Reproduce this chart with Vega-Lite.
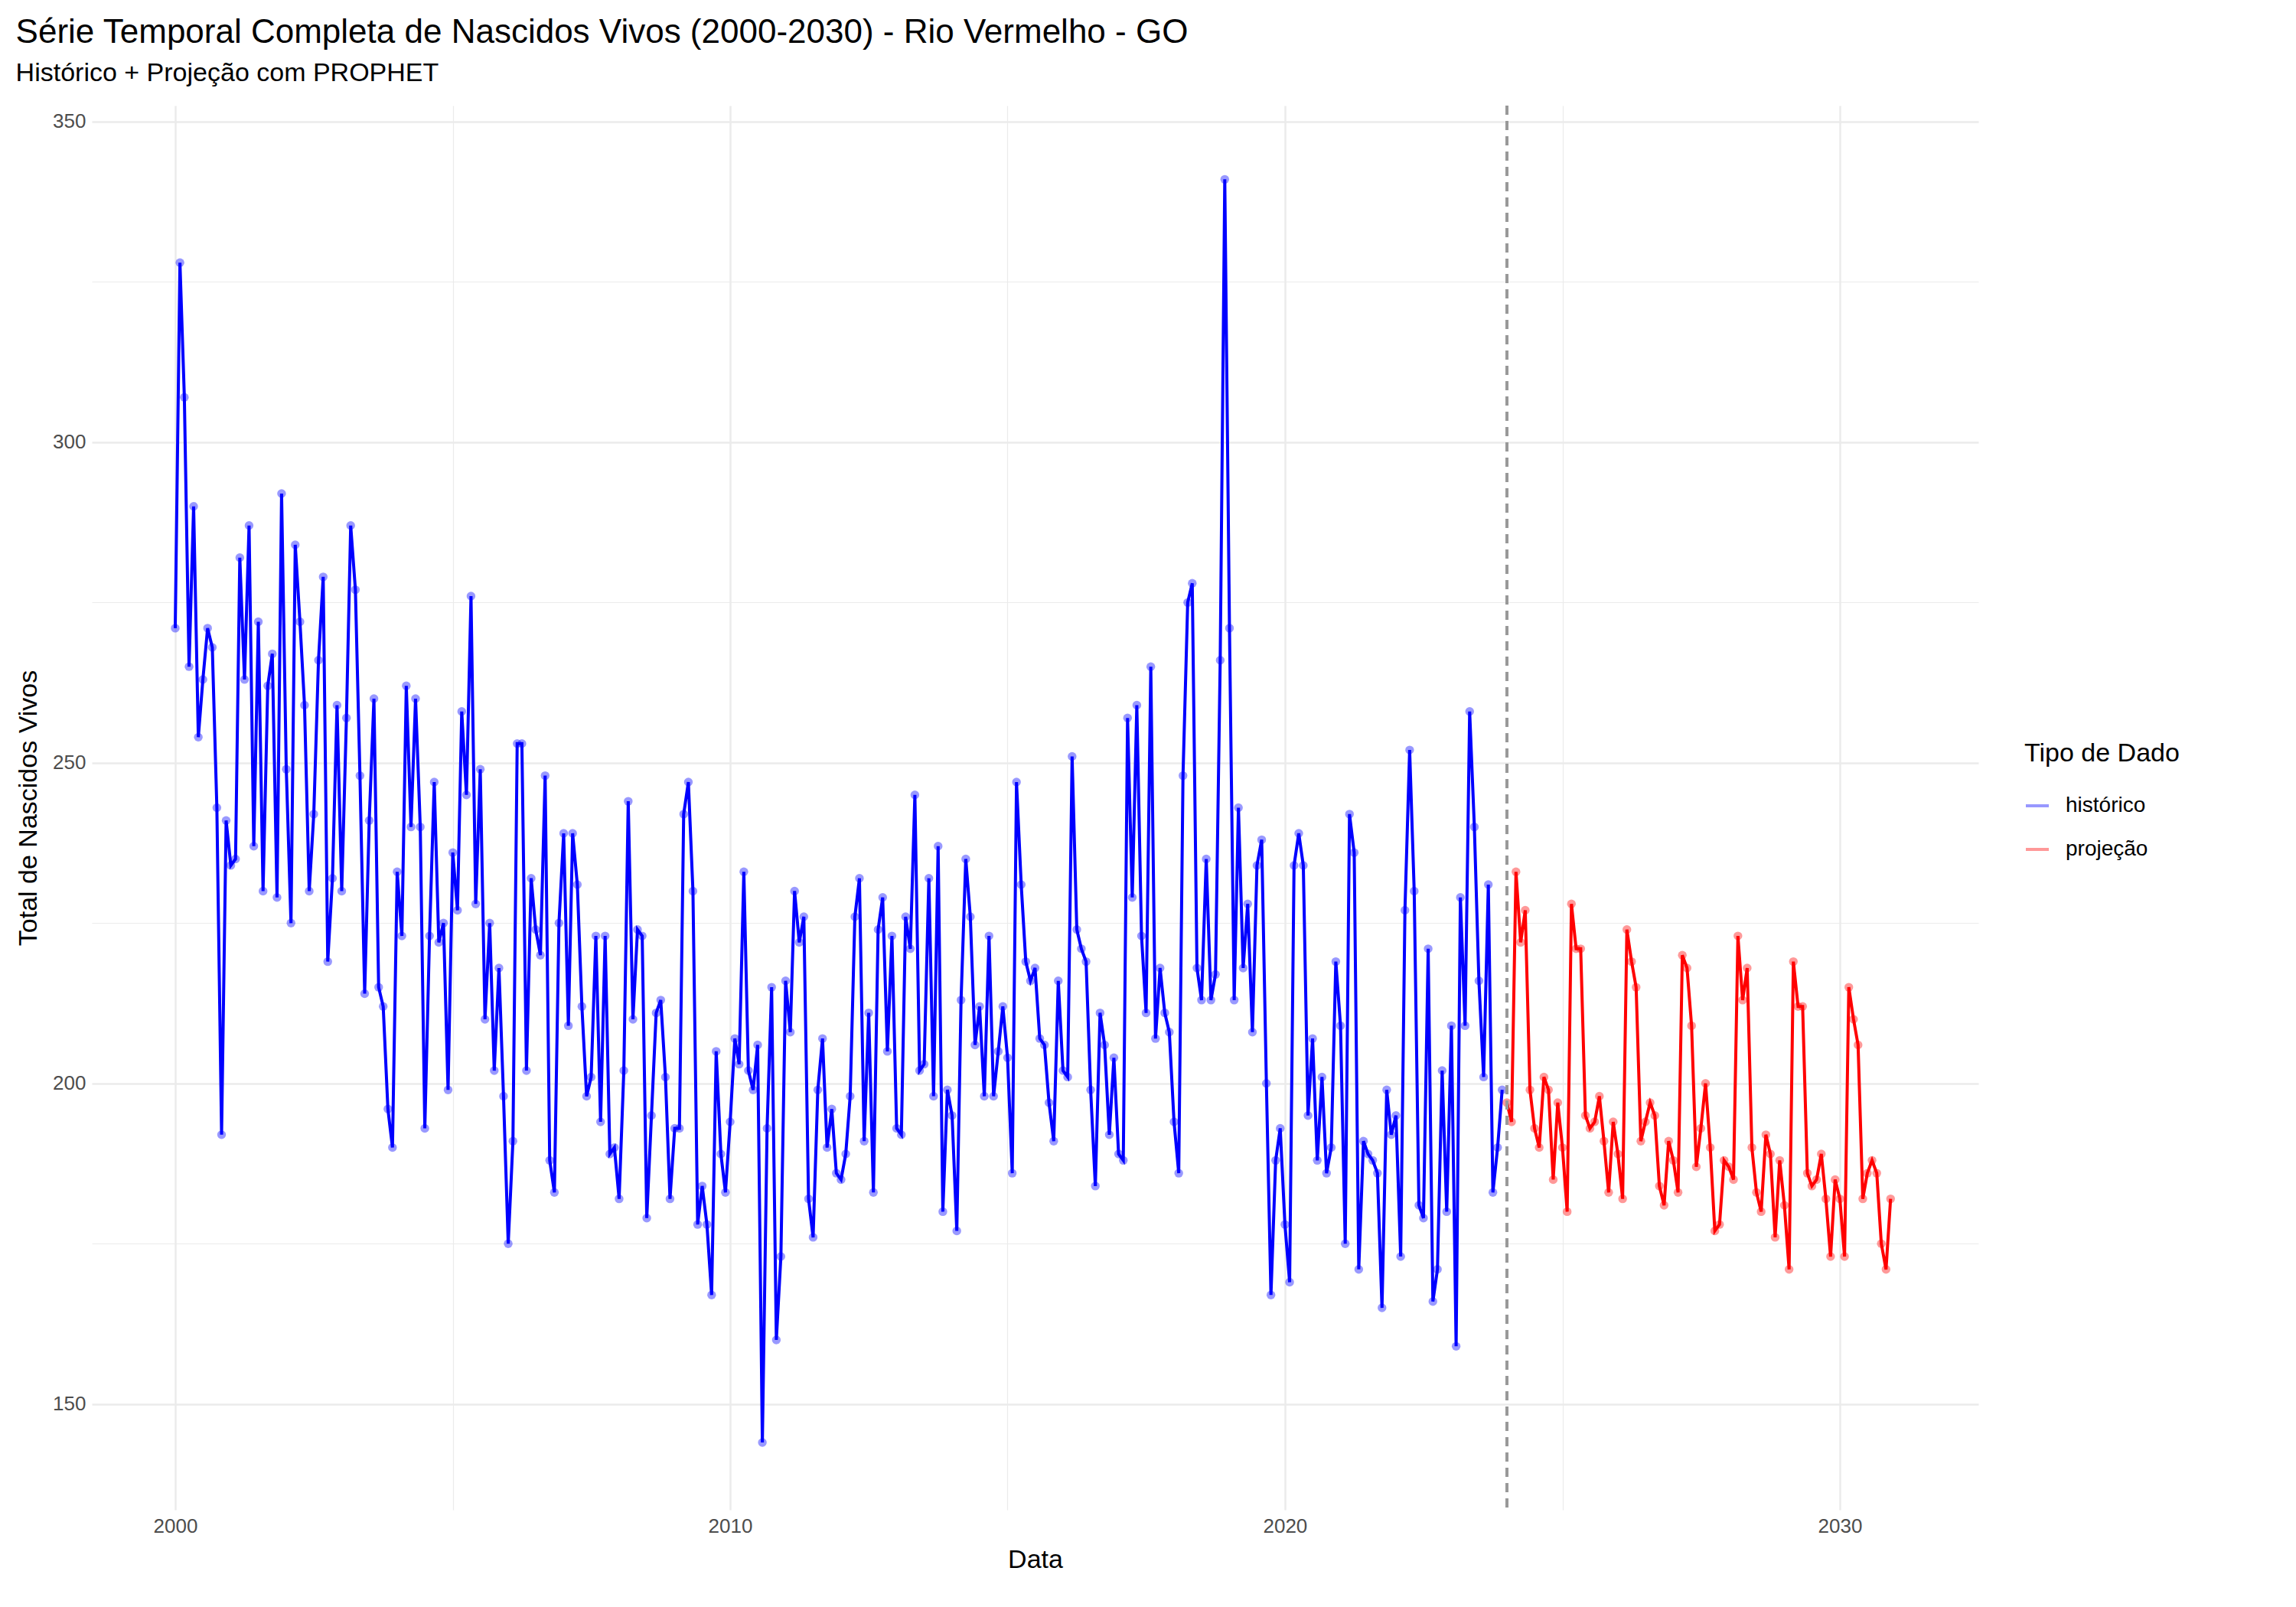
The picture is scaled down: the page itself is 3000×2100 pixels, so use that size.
{
  "$schema": "https://vega.github.io/schema/vega-lite/v6.json",
  "width": 2465,
  "height": 1835,
  "padding": {"left": 20, "top": 20, "right": 20, "bottom": 20},
  "background": "white",
  "config": {
    "font": "Liberation Sans",
    "view": {"stroke": null},
    "axis": {"domain": false, "ticks": false, "gridColor": "#ebebeb", "gridWidth": 2.5, "labelFontSize": 26, "labelColor": "#4d4d4d", "titleFontSize": 34, "titleFontWeight": "normal", "titleColor": "black", "labelPadding": 8, "titlePadding": 14},
    "legend": {"titleFontSize": 34, "titleFontWeight": "normal", "labelFontSize": 28, "symbolSize": 900, "symbolStrokeWidth": 4, "rowPadding": 26, "titlePadding": 34, "titleLimit": 600, "labelLimit": 400, "labelOffset": 20}
  },
  "title": {"text": "Série Temporal Completa de Nascidos Vivos (2000-2030) -  Rio Vermelho - GO", "subtitle": "Histórico + Projeção com PROPHET", "fontSize": 44, "fontWeight": "normal", "subtitleFontSize": 34, "anchor": "start", "offset": 24, "subtitlePadding": 14},
  "data": {"values": [
{"d":"2000-01-01","v":271,"t":"histórico"},{"d":"2000-02-01","v":328,"t":"histórico"},{"d":"2000-03-01","v":307,"t":"histórico"},{"d":"2000-04-01","v":265,"t":"histórico"},{"d":"2000-05-01","v":290,"t":"histórico"},{"d":"2000-06-01","v":254,"t":"histórico"},{"d":"2000-07-01","v":263,"t":"histórico"},{"d":"2000-08-01","v":271,"t":"histórico"},{"d":"2000-09-01","v":268,"t":"histórico"},{"d":"2000-10-01","v":243,"t":"histórico"},{"d":"2000-11-01","v":192,"t":"histórico"},{"d":"2000-12-01","v":241,"t":"histórico"},
{"d":"2001-01-01","v":234,"t":"histórico"},{"d":"2001-02-01","v":235,"t":"histórico"},{"d":"2001-03-01","v":282,"t":"histórico"},{"d":"2001-04-01","v":263,"t":"histórico"},{"d":"2001-05-01","v":287,"t":"histórico"},{"d":"2001-06-01","v":237,"t":"histórico"},{"d":"2001-07-01","v":272,"t":"histórico"},{"d":"2001-08-01","v":230,"t":"histórico"},{"d":"2001-09-01","v":262,"t":"histórico"},{"d":"2001-10-01","v":267,"t":"histórico"},{"d":"2001-11-01","v":229,"t":"histórico"},{"d":"2001-12-01","v":292,"t":"histórico"},
{"d":"2002-01-01","v":249,"t":"histórico"},{"d":"2002-02-01","v":225,"t":"histórico"},{"d":"2002-03-01","v":284,"t":"histórico"},{"d":"2002-04-01","v":272,"t":"histórico"},{"d":"2002-05-01","v":259,"t":"histórico"},{"d":"2002-06-01","v":230,"t":"histórico"},{"d":"2002-07-01","v":242,"t":"histórico"},{"d":"2002-08-01","v":266,"t":"histórico"},{"d":"2002-09-01","v":279,"t":"histórico"},{"d":"2002-10-01","v":219,"t":"histórico"},{"d":"2002-11-01","v":232,"t":"histórico"},{"d":"2002-12-01","v":259,"t":"histórico"},
{"d":"2003-01-01","v":230,"t":"histórico"},{"d":"2003-02-01","v":257,"t":"histórico"},{"d":"2003-03-01","v":287,"t":"histórico"},{"d":"2003-04-01","v":277,"t":"histórico"},{"d":"2003-05-01","v":248,"t":"histórico"},{"d":"2003-06-01","v":214,"t":"histórico"},{"d":"2003-07-01","v":241,"t":"histórico"},{"d":"2003-08-01","v":260,"t":"histórico"},{"d":"2003-09-01","v":215,"t":"histórico"},{"d":"2003-10-01","v":212,"t":"histórico"},{"d":"2003-11-01","v":196,"t":"histórico"},{"d":"2003-12-01","v":190,"t":"histórico"},
{"d":"2004-01-01","v":233,"t":"histórico"},{"d":"2004-02-01","v":223,"t":"histórico"},{"d":"2004-03-01","v":262,"t":"histórico"},{"d":"2004-04-01","v":240,"t":"histórico"},{"d":"2004-05-01","v":260,"t":"histórico"},{"d":"2004-06-01","v":240,"t":"histórico"},{"d":"2004-07-01","v":193,"t":"histórico"},{"d":"2004-08-01","v":223,"t":"histórico"},{"d":"2004-09-01","v":247,"t":"histórico"},{"d":"2004-10-01","v":222,"t":"histórico"},{"d":"2004-11-01","v":225,"t":"histórico"},{"d":"2004-12-01","v":199,"t":"histórico"},
{"d":"2005-01-01","v":236,"t":"histórico"},{"d":"2005-02-01","v":227,"t":"histórico"},{"d":"2005-03-01","v":258,"t":"histórico"},{"d":"2005-04-01","v":245,"t":"histórico"},{"d":"2005-05-01","v":276,"t":"histórico"},{"d":"2005-06-01","v":228,"t":"histórico"},{"d":"2005-07-01","v":249,"t":"histórico"},{"d":"2005-08-01","v":210,"t":"histórico"},{"d":"2005-09-01","v":225,"t":"histórico"},{"d":"2005-10-01","v":202,"t":"histórico"},{"d":"2005-11-01","v":218,"t":"histórico"},{"d":"2005-12-01","v":198,"t":"histórico"},
{"d":"2006-01-01","v":175,"t":"histórico"},{"d":"2006-02-01","v":191,"t":"histórico"},{"d":"2006-03-01","v":253,"t":"histórico"},{"d":"2006-04-01","v":253,"t":"histórico"},{"d":"2006-05-01","v":202,"t":"histórico"},{"d":"2006-06-01","v":232,"t":"histórico"},{"d":"2006-07-01","v":224,"t":"histórico"},{"d":"2006-08-01","v":220,"t":"histórico"},{"d":"2006-09-01","v":248,"t":"histórico"},{"d":"2006-10-01","v":188,"t":"histórico"},{"d":"2006-11-01","v":183,"t":"histórico"},{"d":"2006-12-01","v":225,"t":"histórico"},
{"d":"2007-01-01","v":239,"t":"histórico"},{"d":"2007-02-01","v":209,"t":"histórico"},{"d":"2007-03-01","v":239,"t":"histórico"},{"d":"2007-04-01","v":231,"t":"histórico"},{"d":"2007-05-01","v":212,"t":"histórico"},{"d":"2007-06-01","v":198,"t":"histórico"},{"d":"2007-07-01","v":201,"t":"histórico"},{"d":"2007-08-01","v":223,"t":"histórico"},{"d":"2007-09-01","v":194,"t":"histórico"},{"d":"2007-10-01","v":223,"t":"histórico"},{"d":"2007-11-01","v":189,"t":"histórico"},{"d":"2007-12-01","v":190,"t":"histórico"},
{"d":"2008-01-01","v":182,"t":"histórico"},{"d":"2008-02-01","v":202,"t":"histórico"},{"d":"2008-03-01","v":244,"t":"histórico"},{"d":"2008-04-01","v":210,"t":"histórico"},{"d":"2008-05-01","v":224,"t":"histórico"},{"d":"2008-06-01","v":223,"t":"histórico"},{"d":"2008-07-01","v":179,"t":"histórico"},{"d":"2008-08-01","v":195,"t":"histórico"},{"d":"2008-09-01","v":211,"t":"histórico"},{"d":"2008-10-01","v":213,"t":"histórico"},{"d":"2008-11-01","v":201,"t":"histórico"},{"d":"2008-12-01","v":182,"t":"histórico"},
{"d":"2009-01-01","v":193,"t":"histórico"},{"d":"2009-02-01","v":193,"t":"histórico"},{"d":"2009-03-01","v":242,"t":"histórico"},{"d":"2009-04-01","v":247,"t":"histórico"},{"d":"2009-05-01","v":230,"t":"histórico"},{"d":"2009-06-01","v":178,"t":"histórico"},{"d":"2009-07-01","v":184,"t":"histórico"},{"d":"2009-08-01","v":178,"t":"histórico"},{"d":"2009-09-01","v":167,"t":"histórico"},{"d":"2009-10-01","v":205,"t":"histórico"},{"d":"2009-11-01","v":189,"t":"histórico"},{"d":"2009-12-01","v":183,"t":"histórico"},
{"d":"2010-01-01","v":194,"t":"histórico"},{"d":"2010-02-01","v":207,"t":"histórico"},{"d":"2010-03-01","v":203,"t":"histórico"},{"d":"2010-04-01","v":233,"t":"histórico"},{"d":"2010-05-01","v":202,"t":"histórico"},{"d":"2010-06-01","v":199,"t":"histórico"},{"d":"2010-07-01","v":206,"t":"histórico"},{"d":"2010-08-01","v":144,"t":"histórico"},{"d":"2010-09-01","v":193,"t":"histórico"},{"d":"2010-10-01","v":215,"t":"histórico"},{"d":"2010-11-01","v":160,"t":"histórico"},{"d":"2010-12-01","v":173,"t":"histórico"},
{"d":"2011-01-01","v":216,"t":"histórico"},{"d":"2011-02-01","v":208,"t":"histórico"},{"d":"2011-03-01","v":230,"t":"histórico"},{"d":"2011-04-01","v":222,"t":"histórico"},{"d":"2011-05-01","v":226,"t":"histórico"},{"d":"2011-06-01","v":182,"t":"histórico"},{"d":"2011-07-01","v":176,"t":"histórico"},{"d":"2011-08-01","v":199,"t":"histórico"},{"d":"2011-09-01","v":207,"t":"histórico"},{"d":"2011-10-01","v":190,"t":"histórico"},{"d":"2011-11-01","v":196,"t":"histórico"},{"d":"2011-12-01","v":186,"t":"histórico"},
{"d":"2012-01-01","v":185,"t":"histórico"},{"d":"2012-02-01","v":189,"t":"histórico"},{"d":"2012-03-01","v":198,"t":"histórico"},{"d":"2012-04-01","v":226,"t":"histórico"},{"d":"2012-05-01","v":232,"t":"histórico"},{"d":"2012-06-01","v":191,"t":"histórico"},{"d":"2012-07-01","v":211,"t":"histórico"},{"d":"2012-08-01","v":183,"t":"histórico"},{"d":"2012-09-01","v":224,"t":"histórico"},{"d":"2012-10-01","v":229,"t":"histórico"},{"d":"2012-11-01","v":205,"t":"histórico"},{"d":"2012-12-01","v":223,"t":"histórico"},
{"d":"2013-01-01","v":193,"t":"histórico"},{"d":"2013-02-01","v":192,"t":"histórico"},{"d":"2013-03-01","v":226,"t":"histórico"},{"d":"2013-04-01","v":221,"t":"histórico"},{"d":"2013-05-01","v":245,"t":"histórico"},{"d":"2013-06-01","v":202,"t":"histórico"},{"d":"2013-07-01","v":203,"t":"histórico"},{"d":"2013-08-01","v":232,"t":"histórico"},{"d":"2013-09-01","v":198,"t":"histórico"},{"d":"2013-10-01","v":237,"t":"histórico"},{"d":"2013-11-01","v":180,"t":"histórico"},{"d":"2013-12-01","v":199,"t":"histórico"},
{"d":"2014-01-01","v":195,"t":"histórico"},{"d":"2014-02-01","v":177,"t":"histórico"},{"d":"2014-03-01","v":213,"t":"histórico"},{"d":"2014-04-01","v":235,"t":"histórico"},{"d":"2014-05-01","v":226,"t":"histórico"},{"d":"2014-06-01","v":206,"t":"histórico"},{"d":"2014-07-01","v":212,"t":"histórico"},{"d":"2014-08-01","v":198,"t":"histórico"},{"d":"2014-09-01","v":223,"t":"histórico"},{"d":"2014-10-01","v":198,"t":"histórico"},{"d":"2014-11-01","v":205,"t":"histórico"},{"d":"2014-12-01","v":212,"t":"histórico"},
{"d":"2015-01-01","v":204,"t":"histórico"},{"d":"2015-02-01","v":186,"t":"histórico"},{"d":"2015-03-01","v":247,"t":"histórico"},{"d":"2015-04-01","v":231,"t":"histórico"},{"d":"2015-05-01","v":219,"t":"histórico"},{"d":"2015-06-01","v":216,"t":"histórico"},{"d":"2015-07-01","v":218,"t":"histórico"},{"d":"2015-08-01","v":207,"t":"histórico"},{"d":"2015-09-01","v":206,"t":"histórico"},{"d":"2015-10-01","v":197,"t":"histórico"},{"d":"2015-11-01","v":191,"t":"histórico"},{"d":"2015-12-01","v":216,"t":"histórico"},
{"d":"2016-01-01","v":202,"t":"histórico"},{"d":"2016-02-01","v":201,"t":"histórico"},{"d":"2016-03-01","v":251,"t":"histórico"},{"d":"2016-04-01","v":224,"t":"histórico"},{"d":"2016-05-01","v":221,"t":"histórico"},{"d":"2016-06-01","v":219,"t":"histórico"},{"d":"2016-07-01","v":199,"t":"histórico"},{"d":"2016-08-01","v":184,"t":"histórico"},{"d":"2016-09-01","v":211,"t":"histórico"},{"d":"2016-10-01","v":206,"t":"histórico"},{"d":"2016-11-01","v":192,"t":"histórico"},{"d":"2016-12-01","v":204,"t":"histórico"},
{"d":"2017-01-01","v":189,"t":"histórico"},{"d":"2017-02-01","v":188,"t":"histórico"},{"d":"2017-03-01","v":257,"t":"histórico"},{"d":"2017-04-01","v":229,"t":"histórico"},{"d":"2017-05-01","v":259,"t":"histórico"},{"d":"2017-06-01","v":223,"t":"histórico"},{"d":"2017-07-01","v":211,"t":"histórico"},{"d":"2017-08-01","v":265,"t":"histórico"},{"d":"2017-09-01","v":207,"t":"histórico"},{"d":"2017-10-01","v":218,"t":"histórico"},{"d":"2017-11-01","v":211,"t":"histórico"},{"d":"2017-12-01","v":208,"t":"histórico"},
{"d":"2018-01-01","v":194,"t":"histórico"},{"d":"2018-02-01","v":186,"t":"histórico"},{"d":"2018-03-01","v":248,"t":"histórico"},{"d":"2018-04-01","v":275,"t":"histórico"},{"d":"2018-05-01","v":278,"t":"histórico"},{"d":"2018-06-01","v":218,"t":"histórico"},{"d":"2018-07-01","v":213,"t":"histórico"},{"d":"2018-08-01","v":235,"t":"histórico"},{"d":"2018-09-01","v":213,"t":"histórico"},{"d":"2018-10-01","v":217,"t":"histórico"},{"d":"2018-11-01","v":266,"t":"histórico"},{"d":"2018-12-01","v":341,"t":"histórico"},
{"d":"2019-01-01","v":271,"t":"histórico"},{"d":"2019-02-01","v":213,"t":"histórico"},{"d":"2019-03-01","v":243,"t":"histórico"},{"d":"2019-04-01","v":218,"t":"histórico"},{"d":"2019-05-01","v":228,"t":"histórico"},{"d":"2019-06-01","v":208,"t":"histórico"},{"d":"2019-07-01","v":234,"t":"histórico"},{"d":"2019-08-01","v":238,"t":"histórico"},{"d":"2019-09-01","v":200,"t":"histórico"},{"d":"2019-10-01","v":167,"t":"histórico"},{"d":"2019-11-01","v":188,"t":"histórico"},{"d":"2019-12-01","v":193,"t":"histórico"},
{"d":"2020-01-01","v":178,"t":"histórico"},{"d":"2020-02-01","v":169,"t":"histórico"},{"d":"2020-03-01","v":234,"t":"histórico"},{"d":"2020-04-01","v":239,"t":"histórico"},{"d":"2020-05-01","v":234,"t":"histórico"},{"d":"2020-06-01","v":195,"t":"histórico"},{"d":"2020-07-01","v":207,"t":"histórico"},{"d":"2020-08-01","v":188,"t":"histórico"},{"d":"2020-09-01","v":201,"t":"histórico"},{"d":"2020-10-01","v":186,"t":"histórico"},{"d":"2020-11-01","v":190,"t":"histórico"},{"d":"2020-12-01","v":219,"t":"histórico"},
{"d":"2021-01-01","v":209,"t":"histórico"},{"d":"2021-02-01","v":175,"t":"histórico"},{"d":"2021-03-01","v":242,"t":"histórico"},{"d":"2021-04-01","v":236,"t":"histórico"},{"d":"2021-05-01","v":171,"t":"histórico"},{"d":"2021-06-01","v":191,"t":"histórico"},{"d":"2021-07-01","v":189,"t":"histórico"},{"d":"2021-08-01","v":188,"t":"histórico"},{"d":"2021-09-01","v":186,"t":"histórico"},{"d":"2021-10-01","v":165,"t":"histórico"},{"d":"2021-11-01","v":199,"t":"histórico"},{"d":"2021-12-01","v":192,"t":"histórico"},
{"d":"2022-01-01","v":195,"t":"histórico"},{"d":"2022-02-01","v":173,"t":"histórico"},{"d":"2022-03-01","v":227,"t":"histórico"},{"d":"2022-04-01","v":252,"t":"histórico"},{"d":"2022-05-01","v":230,"t":"histórico"},{"d":"2022-06-01","v":181,"t":"histórico"},{"d":"2022-07-01","v":179,"t":"histórico"},{"d":"2022-08-01","v":221,"t":"histórico"},{"d":"2022-09-01","v":166,"t":"histórico"},{"d":"2022-10-01","v":171,"t":"histórico"},{"d":"2022-11-01","v":202,"t":"histórico"},{"d":"2022-12-01","v":180,"t":"histórico"},
{"d":"2023-01-01","v":209,"t":"histórico"},{"d":"2023-02-01","v":159,"t":"histórico"},{"d":"2023-03-01","v":229,"t":"histórico"},{"d":"2023-04-01","v":209,"t":"histórico"},{"d":"2023-05-01","v":258,"t":"histórico"},{"d":"2023-06-01","v":240,"t":"histórico"},{"d":"2023-07-01","v":216,"t":"histórico"},{"d":"2023-08-01","v":201,"t":"histórico"},{"d":"2023-09-01","v":231,"t":"histórico"},{"d":"2023-10-01","v":183,"t":"histórico"},{"d":"2023-11-01","v":190,"t":"histórico"},{"d":"2023-12-01","v":199,"t":"histórico"},
{"d":"2024-01-01","v":197,"t":"projeção"},{"d":"2024-02-01","v":194,"t":"projeção"},{"d":"2024-03-01","v":233,"t":"projeção"},{"d":"2024-04-01","v":222,"t":"projeção"},{"d":"2024-05-01","v":227,"t":"projeção"},{"d":"2024-06-01","v":199,"t":"projeção"},{"d":"2024-07-01","v":193,"t":"projeção"},{"d":"2024-08-01","v":190,"t":"projeção"},{"d":"2024-09-01","v":201,"t":"projeção"},{"d":"2024-10-01","v":199,"t":"projeção"},{"d":"2024-11-01","v":185,"t":"projeção"},{"d":"2024-12-01","v":197,"t":"projeção"},
{"d":"2025-01-01","v":190,"t":"projeção"},{"d":"2025-02-01","v":180,"t":"projeção"},{"d":"2025-03-01","v":228,"t":"projeção"},{"d":"2025-04-01","v":221,"t":"projeção"},{"d":"2025-05-01","v":221,"t":"projeção"},{"d":"2025-06-01","v":195,"t":"projeção"},{"d":"2025-07-01","v":193,"t":"projeção"},{"d":"2025-08-01","v":194,"t":"projeção"},{"d":"2025-09-01","v":198,"t":"projeção"},{"d":"2025-10-01","v":191,"t":"projeção"},{"d":"2025-11-01","v":183,"t":"projeção"},{"d":"2025-12-01","v":194,"t":"projeção"},
{"d":"2026-01-01","v":189,"t":"projeção"},{"d":"2026-02-01","v":182,"t":"projeção"},{"d":"2026-03-01","v":224,"t":"projeção"},{"d":"2026-04-01","v":219,"t":"projeção"},{"d":"2026-05-01","v":215,"t":"projeção"},{"d":"2026-06-01","v":191,"t":"projeção"},{"d":"2026-07-01","v":194,"t":"projeção"},{"d":"2026-08-01","v":197,"t":"projeção"},{"d":"2026-09-01","v":195,"t":"projeção"},{"d":"2026-10-01","v":184,"t":"projeção"},{"d":"2026-11-01","v":181,"t":"projeção"},{"d":"2026-12-01","v":191,"t":"projeção"},
{"d":"2027-01-01","v":188,"t":"projeção"},{"d":"2027-02-01","v":183,"t":"projeção"},{"d":"2027-03-01","v":220,"t":"projeção"},{"d":"2027-04-01","v":218,"t":"projeção"},{"d":"2027-05-01","v":209,"t":"projeção"},{"d":"2027-06-01","v":187,"t":"projeção"},{"d":"2027-07-01","v":193,"t":"projeção"},{"d":"2027-08-01","v":200,"t":"projeção"},{"d":"2027-09-01","v":190,"t":"projeção"},{"d":"2027-10-01","v":177,"t":"projeção"},{"d":"2027-11-01","v":178,"t":"projeção"},{"d":"2027-12-01","v":188,"t":"projeção"},
{"d":"2028-01-01","v":187,"t":"projeção"},{"d":"2028-02-01","v":185,"t":"projeção"},{"d":"2028-03-01","v":223,"t":"projeção"},{"d":"2028-04-01","v":213,"t":"projeção"},{"d":"2028-05-01","v":218,"t":"projeção"},{"d":"2028-06-01","v":190,"t":"projeção"},{"d":"2028-07-01","v":183,"t":"projeção"},{"d":"2028-08-01","v":180,"t":"projeção"},{"d":"2028-09-01","v":192,"t":"projeção"},{"d":"2028-10-01","v":189,"t":"projeção"},{"d":"2028-11-01","v":176,"t":"projeção"},{"d":"2028-12-01","v":188,"t":"projeção"},
{"d":"2029-01-01","v":181,"t":"projeção"},{"d":"2029-02-01","v":171,"t":"projeção"},{"d":"2029-03-01","v":219,"t":"projeção"},{"d":"2029-04-01","v":212,"t":"projeção"},{"d":"2029-05-01","v":212,"t":"projeção"},{"d":"2029-06-01","v":186,"t":"projeção"},{"d":"2029-07-01","v":184,"t":"projeção"},{"d":"2029-08-01","v":185,"t":"projeção"},{"d":"2029-09-01","v":189,"t":"projeção"},{"d":"2029-10-01","v":182,"t":"projeção"},{"d":"2029-11-01","v":173,"t":"projeção"},{"d":"2029-12-01","v":185,"t":"projeção"},
{"d":"2030-01-01","v":182,"t":"projeção"},{"d":"2030-02-01","v":173,"t":"projeção"},{"d":"2030-03-01","v":215,"t":"projeção"},{"d":"2030-04-01","v":210,"t":"projeção"},{"d":"2030-05-01","v":206,"t":"projeção"},{"d":"2030-06-01","v":182,"t":"projeção"},{"d":"2030-07-01","v":186,"t":"projeção"},{"d":"2030-08-01","v":188,"t":"projeção"},{"d":"2030-09-01","v":186,"t":"projeção"},{"d":"2030-10-01","v":175,"t":"projeção"},{"d":"2030-11-01","v":171,"t":"projeção"},{"d":"2030-12-01","v":182,"t":"projeção"}
  ]},
  "encoding": {
    "x": {"field": "d", "type": "temporal", "title": "Data",
      "scale": {"domain": [{"year": 1998, "month": 7, "date": 1}, {"year": 2032, "month": 7, "date": 1}]},
      "axis": {"values": [{"year": 2000, "month": 1, "date": 1}, {"year": 2005, "month": 1, "date": 1}, {"year": 2010, "month": 1, "date": 1}, {"year": 2015, "month": 1, "date": 1}, {"year": 2020, "month": 1, "date": 1}, {"year": 2025, "month": 1, "date": 1}, {"year": 2030, "month": 1, "date": 1}],
        "labelExpr": "year(datum.value) % 10 == 0 ? timeFormat(datum.value, '%Y') : ''",
        "gridWidth": {"condition": {"test": "year(datum.value) % 10 == 0", "value": 2.5}, "value": 1.2}}},
    "y": {"field": "v", "type": "quantitative", "title": "Total de Nascidos Vivos",
      "scale": {"domain": [133.5, 352.5], "nice": false, "zero": false},
      "axis": {"values": [150, 175, 200, 225, 250, 275, 300, 325, 350],
        "labelExpr": "datum.value % 50 == 0 ? datum.label : ''",
        "gridWidth": {"condition": {"test": "datum.value % 50 == 0", "value": 2.5}, "value": 1.2}}},
    "color": {"field": "t", "type": "nominal", "title": "Tipo de Dado",
      "scale": {"domain": ["histórico", "projeção"], "range": ["#0000ff", "#ff0000"]},
      "legend": {"symbolType": "stroke", "orient": "none", "legendX": 2525, "legendY": 830}}
  },
  "layer": [
    {"mark": {"type": "line", "strokeWidth": 4}},
    {"mark": {"type": "point", "filled": true, "size": 130, "opacity": 0.4}},
    {"mark": {"type": "rule", "strokeDash": [12, 8], "strokeWidth": 3, "color": "#999999"},
      "encoding": {"x": {"datum": {"year": 2024, "month": 1, "date": 1}, "type": "temporal"}, "y": null, "color": null}}
  ]
}
